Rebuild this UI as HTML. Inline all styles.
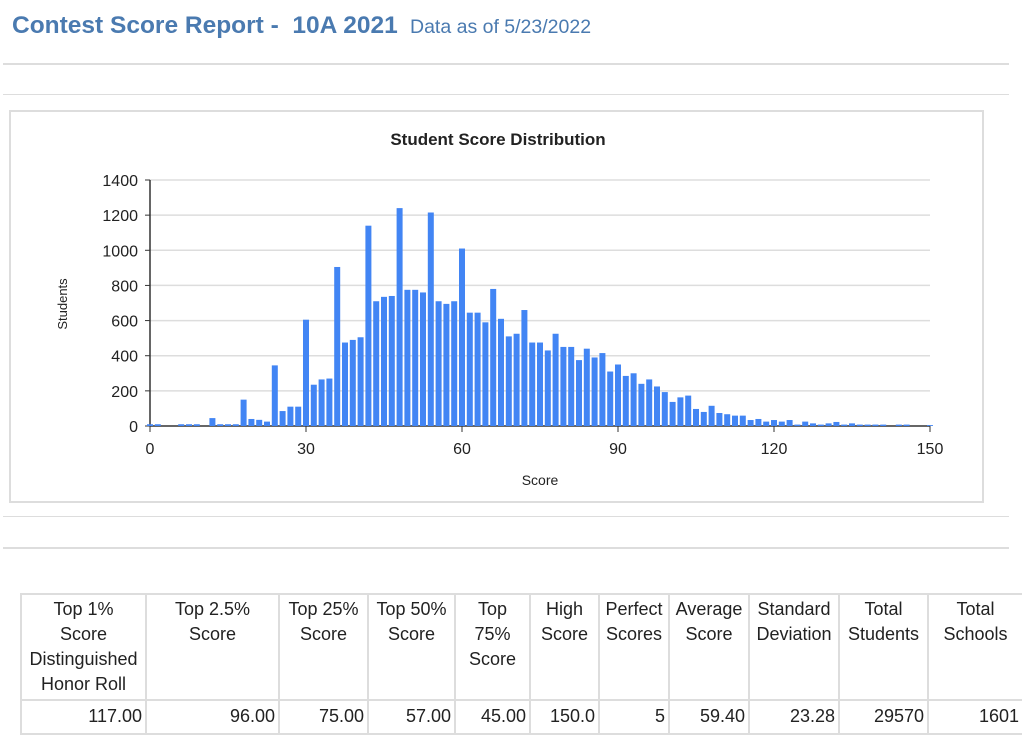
<!DOCTYPE html>
<html><head><meta charset="utf-8"><style>
body{margin:0;width:1024px;height:736px;background:#fff;position:relative;overflow:hidden;font-family:"Liberation Sans",sans-serif}
.hl{position:absolute;height:2px;background:#ddd}
.cell{position:absolute;font-size:18px;line-height:25px;color:#222;box-sizing:border-box;border-left:2px solid #ddd}
.h{text-align:center;top:595px;height:105px;padding-top:2px}
.d{text-align:right;top:701px;height:33px;padding-top:3px;padding-right:3px}
</style></head><body>
<div style="position:absolute;left:12px;top:12px;font-size:24.5px;font-weight:bold;color:#4a7ab0">Contest Score Report -&nbsp; 10A 2021 <span style="font-weight:normal;font-size:19.5px">&nbsp;Data as of 5/23/2022</span></div>
<div class="hl" style="left:3px;width:1006px;top:63px"></div>
<div class="hl" style="left:3px;width:1006px;top:94px;height:1px"></div>
<div style="position:absolute;left:9px;top:110px;width:971px;height:389px;border:2px solid #ddd">
<svg id="chart" width="971" height="389"></svg>
</div>
<div class="hl" style="left:3px;width:1006px;top:516px;height:1px"></div>
<div class="hl" style="left:3px;width:1006px;top:547px"></div>
<div class="hl" style="left:20px;width:1002px;top:593px"></div>
<div class="hl" style="left:20px;width:1002px;top:699px"></div>
<div class="hl" style="left:20px;width:1002px;top:733px"></div>
<div id="tbl"></div>
<script>
const scores=[];for(let i=0;i<=100;i++)scores.push(i*1.5);
const counts=[10,10,0,0,10,10,10,0,45,10,10,10,150,40,35,25,345,85,110,110,605,235,265,270,905,475,490,505,1140,710,735,740,1240,775,775,760,1215,710,695,710,1010,645,645,590,780,610,510,525,660,475,475,430,525,450,450,375,440,390,415,310,350,285,300,240,265,225,193,137,163,173,97,80,115,74,67,59,59,34,40,25,34,25,34,8,25,15,8,15,23,8,15,8,8,8,8,0,8,8,0,0,5];
const yTicks=[0,200,400,600,800,1000,1200,1400];
const xTicks=[0,30,60,90,120,150];
const ox=-10,oy=-111;
const X=v=>149+ox+v*5.2, Y=v=>425+oy-v*246/1400;
const svg=document.getElementById('chart');const NS='http://www.w3.org/2000/svg';
function mk(t,a,txt){const e=document.createElementNS(NS,t);for(const k in a)e.setAttribute(k,a[k]);if(txt!=null)e.textContent=txt;svg.appendChild(e);return e;}
let e=mk('text',{x:487,y:33,'text-anchor':'middle','font-size':17,'font-weight':'bold',fill:'#222','font-family':'Liberation Sans'},'Student Score Distribution');


yTicks.forEach(t=>{
 e=mk('line',{x1:X(0),x2:X(150),y1:Y(t),y2:Y(t),stroke:t?'#ddd':'#333','stroke-width':1.5});
 
 
 e=mk('text',{x:X(0)-12,y:Y(t)+6,'text-anchor':'end','font-size':16,fill:'#222','font-family':'Liberation Sans'},t);
 
 
 mk('line',{x1:X(0)-5,x2:X(0),y1:Y(t),y2:Y(t),stroke:'#333'});
});
e=mk('line',{x1:X(0),x2:X(0),y1:Y(1400),y2:Y(0),stroke:'#333','stroke-width':1.5});


scores.forEach((s,i)=>{
 if(!counts[i])return;
 e=mk('rect',{x:X(s)-3,y:Y(counts[i]),width:6,height:Y(0)-Y(counts[i]),fill:'#4285f4'});
 
 
});
xTicks.forEach(t=>{
 mk('line',{x1:X(t),x2:X(t),y1:Y(0),y2:Y(0)+6,stroke:'#333'});
 e=mk('text',{x:X(t),y:Y(0)+28,'text-anchor':'middle','font-size':16,fill:'#222','font-family':'Liberation Sans'},t);
 
 
});
e=mk('text',{x:X(75),y:373,'text-anchor':'middle','font-size':14,fill:'#222','font-family':'Liberation Sans'},'Score');


e=mk('text',{x:0,y:0,'text-anchor':'middle','font-size':13,fill:'#222','font-family':'Liberation Sans',transform:'translate(56,192) rotate(-90)'},'Students');


const cols=[20,145,278,367,454,529,598,668,748,838,927,1022];
const heads=['Top 1%<br>Score<br>Distinguished<br>Honor Roll','Top 2.5%<br>Score','Top 25%<br>Score','Top 50%<br>Score','Top<br>75%<br>Score','High<br>Score','Perfect<br>Scores','Average<br>Score','Standard<br>Deviation','Total<br>Students','Total<br>Schools'];
const vals=['117.00','96.00','75.00','57.00','45.00','150.0','5','59.40','23.28','29570','1601'];
const tb=document.getElementById('tbl');
heads.forEach((h,i)=>{
 const a=document.createElement('div');a.className='cell h';a.innerHTML=h;
 a.style.left=cols[i]+'px';a.style.width=(cols[i+1]-cols[i])+'px';
 
 
 tb.appendChild(a);
 const b=document.createElement('div');b.className='cell d';b.textContent=vals[i];
 b.style.left=cols[i]+'px';b.style.width=(cols[i+1]-cols[i])+'px';
 
 
 tb.appendChild(b);
});
</script>
</body></html>
